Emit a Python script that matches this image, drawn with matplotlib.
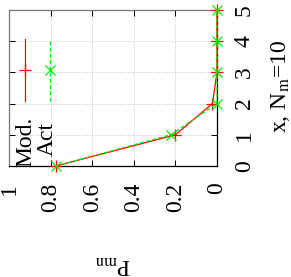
import matplotlib
matplotlib.use("Agg")
import matplotlib.pyplot as plt
from matplotlib.patches import Rectangle

plt.rcParams['font.family'] = ['Liberation Serif', 'DejaVu Serif']
plt.rcParams['mathtext.fontset'] = 'stix'

# data: x (vertical axis) against P_mn (horizontal, reversed)
x_vals = [0, 1, 2, 3, 4, 5]
p_mod = [0.775, 0.20, 0.022, 0.0, 0.0, 0.0]
p_act = [0.775, 0.222, 0.0, 0.0, 0.0, 0.0]
p_ticks = [1, 0.8, 0.6, 0.4, 0.2, 0]
p_labels = ["1", "0.8", "0.6", "0.4", "0.2", "0"]
x_ticks = [0, 1, 2, 3, 4, 5]

fig = plt.figure(figsize=(2.91, 2.77), dpi=100)
ax = fig.add_axes([9/291, 1 - 166/277, 208/291, 156/277])

ax.set_xlim(1, 0)
ax.set_ylim(0, 5)

ax.grid(True, color='#c8c8c8', linestyle=':', linewidth=0.7, zorder=0)
# opaque key box hides the grid behind it
ax.add_patch(Rectangle((0, 0), 0.245, 0.904, transform=ax.transAxes,
                       facecolor='white', edgecolor='none', zorder=1))

ax.plot(p_mod, x_vals, color='red', lw=0.9, marker='+', ms=8, mew=0.9,
        clip_on=False, zorder=3)
ax.plot(p_act, x_vals, color='#00ee00', lw=0.9, ls=(0, (3, 2)), marker='x',
        ms=7, mew=0.9, clip_on=False, zorder=4)

# key drawn rotated like the rest of the figure
ax.plot([0.921, 0.921], [2.08, 4.07], color='red', lw=0.9, zorder=3)
ax.plot([0.921], [3.08], color='red', marker='+', ms=8, mew=0.9, zorder=3)
ax.plot([0.805, 0.805], [2.08, 4.07], color='#00ee00', lw=0.9, ls=(0, (3, 2)), zorder=4)
ax.plot([0.805], [3.08], color='#00ee00', marker='x', ms=7, mew=0.9, zorder=4)
ax.text(0.921, 0.77, "Mod.", rotation=90, ha='center', va='center', fontsize=17, zorder=5)
ax.text(0.814, 0.85, "Act", rotation=90, ha='center', va='center', fontsize=17, zorder=5)

ax.set_xticks(p_ticks)
ax.set_xticklabels(p_labels, rotation=90, fontsize=17)
ax.set_yticks(x_ticks)
ax.set_yticklabels([str(v) for v in x_ticks], rotation=90, fontsize=17, va='center')
ax.tick_params(axis='x', direction='in', top=True, bottom=True, length=4, width=0.7, pad=12)
ax.tick_params(axis='y', direction='in', left=True, right=True, labelleft=False,
               labelright=True, length=4, width=0.7, pad=12)

for side in ['top', 'left']:
    ax.spines[side].set_color('#777777')
for side in ['right', 'bottom']:
    ax.spines[side].set_color('black')
for s in ax.spines.values():
    s.set_linewidth(0.9)
    s.set_zorder(2)

fig.text(113/291, 1 - 264/277, r"P$_{\mathrm{mn}}$", rotation=180,
         ha='center', va='center', fontsize=17)
fig.text(280/291, 1 - 86/277, r"x, N$_{\mathrm{m}}$=10", rotation=90,
         ha='center', va='center', fontsize=17)

fig.savefig("out.png", dpi=100)
